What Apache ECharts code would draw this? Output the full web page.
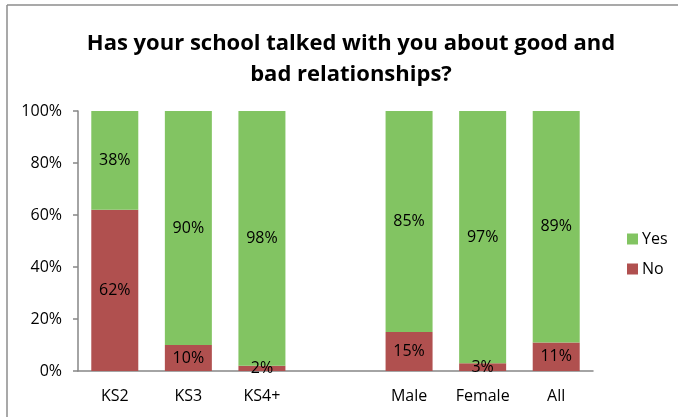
<!DOCTYPE html>
<html>
<head>
<meta charset="utf-8">
<script src="https://cdn.jsdelivr.net/npm/echarts@6/dist/echarts.min.js"></script>
<style>
  html, body { margin: 0; padding: 0; background: #fff; }
  #chart { width: 678px; height: 417px; }
</style>
</head>
<body>
<div id="chart"></div>
<script>
// Groups along the x axis; the blank entry separates key stages from gender/all
const categories = ['KS2', 'KS3', 'KS4+', '', 'Male', 'Female', 'All'];
const noValues = [62, 10, 2, null, 15, 3, 11];
const yesValues = [38, 90, 98, null, 85, 97, 89];
const yTicks = [0, 20, 40, 60, 80, 100];

const FONT = '"Open Sans", "Noto Sans", sans-serif';
const axisGray = '#868686';

const chart = echarts.init(document.getElementById('chart'), null, { renderer: 'canvas' });

const segLabel = {
  show: true,
  position: 'inside',
  formatter: p => p.value == null ? '' : p.value + '%',
  color: '#000',
  fontFamily: FONT,
  fontSize: 16
};

chart.setOption({
  animation: false,
  backgroundColor: '#fff',
  title: {
    text: 'Has your school talked with you about good and\nbad relationships?',
    left: 346,
    textAlign: 'center',
    top: 23,
    textStyle: {
      fontFamily: FONT,
      fontWeight: 'bold',
      fontSize: 22,
      lineHeight: 31,
      color: '#000'
    }
  },
  legend: {
    orient: 'vertical',
    left: 622,
    top: 226,
    itemWidth: 11,
    itemHeight: 11,
    itemGap: 14,
    icon: 'rect',
    data: ['Yes', 'No'],
    textStyle: { fontFamily: FONT, fontSize: 16, color: '#000', padding: [0, 0, 0, -1] }
  },
  grid: { left: 78, top: 111, width: 515, height: 260, containLabel: false },
  xAxis: {
    type: 'category',
    data: categories,
    axisLine: { lineStyle: { color: axisGray, width: 1.5 } },
    axisTick: { show: false },
    axisLabel: { color: '#000', fontFamily: FONT, fontSize: 16, margin: 17 }
  },
  yAxis: {
    type: 'value',
    min: 0,
    max: 100,
    interval: 20,
    axisLine: { show: true, lineStyle: { color: axisGray, width: 1.5 } },
    axisTick: { show: true, length: 5, lineStyle: { color: axisGray, width: 1.5 } },
    splitLine: { show: false },
    axisLabel: {
      color: '#000',
      fontFamily: FONT,
      fontSize: 16,
      margin: 16,
      formatter: v => yTicks.includes(v) ? v + '%' : ''
    }
  },
  series: [
    {
      name: 'No',
      type: 'bar',
      stack: 'total',
      barWidth: 47,
      data: noValues,
      itemStyle: { color: '#b0504f' },
      label: segLabel
    },
    {
      name: 'Yes',
      type: 'bar',
      stack: 'total',
      barWidth: 47,
      data: yesValues,
      itemStyle: { color: '#82c462' },
      label: segLabel
    }
  ],
  graphic: [
    { type: 'line', shape: { x1: 7, y1: 5, x2: 678, y2: 5 }, style: { stroke: '#8c8c8c', lineWidth: 1.5 } },
    { type: 'line', shape: { x1: 7, y1: 5, x2: 7, y2: 417 }, style: { stroke: '#8c8c8c', lineWidth: 1.5 } }
  ]
});
</script>
</body>
</html>
